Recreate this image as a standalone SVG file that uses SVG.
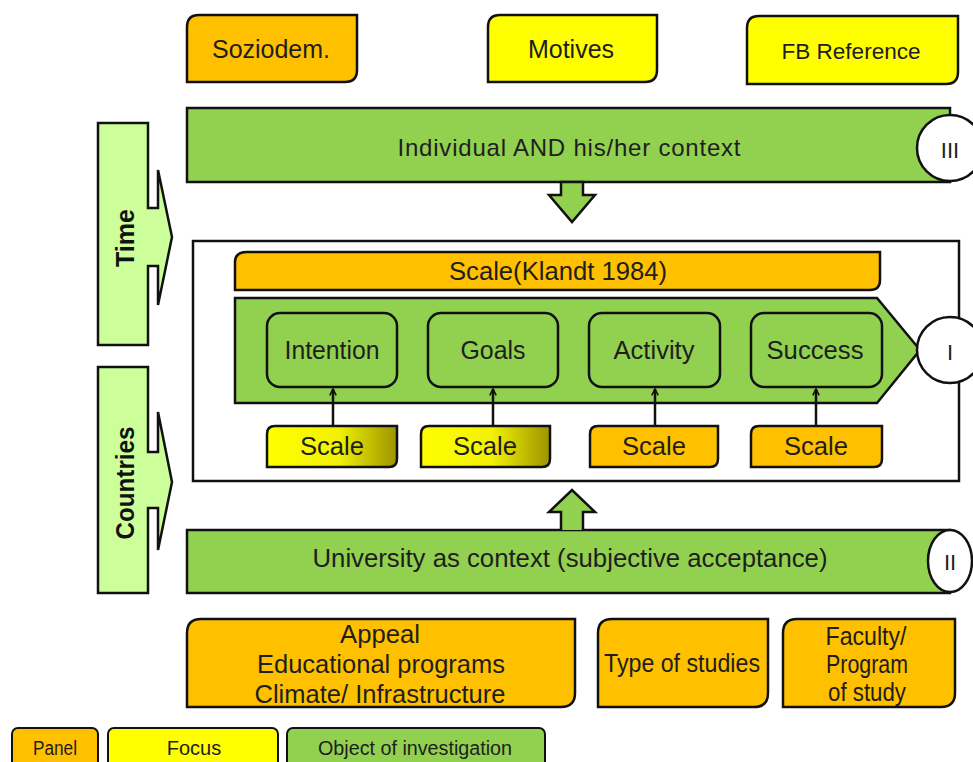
<svg xmlns="http://www.w3.org/2000/svg" width="973" height="762" viewBox="0 0 973 762">
<defs>
<linearGradient id="gy" x1="0" y1="0" x2="1" y2="0">
<stop offset="0" stop-color="#ffff00"/>
<stop offset="0.55" stop-color="#f2f200"/>
<stop offset="1" stop-color="#9c9400"/>
</linearGradient>
<marker id="ah" viewBox="0 0 10 10" refX="9" refY="5" markerWidth="8" markerHeight="8" orient="auto" markerUnits="userSpaceOnUse">
<path d="M1,1 L9,5 L1,9" fill="none" stroke="#111" stroke-width="2"/>
</marker>
<style>
.t{font-family:"Liberation Sans",Arial,sans-serif;fill:#1e1e1e;text-anchor:middle;dominant-baseline:central}
.f25{font-size:25px}
.f24{font-size:24px}
.f22{font-size:22px}
.f20{font-size:20px}
.b{font-weight:bold;font-size:25px;fill:#111}
.or{fill:#ffc000;stroke:#111;stroke-width:2.5}
.ye{fill:#ffff00;stroke:#111;stroke-width:2.5}
.gr{fill:#92d050;stroke:#111;stroke-width:2.5}
.lg{fill:#ccff99;stroke:#111;stroke-width:2.5}
.wh{fill:#fff;stroke:#111;stroke-width:2.5}
.ln{stroke:#111;stroke-width:2.5;fill:none}
</style>
</defs>
<rect width="973" height="762" fill="#fff"/>

<g id="soziodem">
<path class="or" d="M199,15 H357 V70 Q357,82 345,82 H187 V27 Q187,15 199,15 Z"/>
<text class="t f25" x="271" y="49" textLength="118" lengthAdjust="spacingAndGlyphs">Soziodem.</text>
</g>
<g id="motives">
<path class="ye" d="M500,15 H657 V70 Q657,82 645,82 H488 V27 Q488,15 500,15 Z"/>
<text class="t f25" x="571" y="49">Motives</text>
</g>
<g id="fbref">
<path class="ye" d="M759,16 H958 V72 Q958,84 946,84 H747 V28 Q747,16 759,16 Z"/>
<text class="t f22" x="851" y="51" textLength="139" lengthAdjust="spacingAndGlyphs">FB Reference</text>
</g>

<g id="band3">
<rect class="gr" x="187" y="108" width="763" height="74"/>
<circle class="wh" cx="950" cy="148" r="33"/>
<text class="t f24" x="569" y="147" textLength="343" lengthAdjust="spacing">Individual AND his/her context</text>
<text class="t f22" x="950" y="150">III</text>
</g>

<g id="time">
<path class="lg" d="M98,123 H148 V208 H158 V170 L172,237 L158,305 V266 H148 V345 H98 Z"/>
<text class="t b" transform="translate(125,238) rotate(-90)">Time</text>
</g>
<g id="countries">
<path class="lg" d="M98,367 H148 V452 H158 V412 L172,482 L158,550 V508 H148 V593 H98 Z"/>
<text class="t b" transform="translate(125,483) rotate(-90)" textLength="113" lengthAdjust="spacingAndGlyphs">Countries</text>
</g>

<g id="mainbox">
<rect class="wh" x="193" y="241" width="766" height="240" stroke-width="2"/>
</g>

<g id="klandt">
<path class="or" d="M247,252 H880 V280 Q880,290 870,290 H235 V262 Q235,252 247,252 Z"/>
<text class="t f25" x="558" y="271" textLength="218" lengthAdjust="spacingAndGlyphs">Scale(Klandt 1984)</text>
</g>

<g id="process">
<path class="gr" d="M235,298 H877 L920,350 L877,403 H235 Z"/>
<circle class="wh" cx="950" cy="350" r="33"/>
<text class="t f22" x="950" y="352">I</text>
</g>

<g id="intention">
<rect class="gr" x="267" y="313" width="130" height="74" rx="13"/>
<text class="t f25" x="332" y="350" textLength="95" lengthAdjust="spacingAndGlyphs">Intention</text>
</g>
<g id="goals">
<rect class="gr" x="428" y="313" width="130" height="74" rx="13"/>
<text class="t f25" x="493" y="350" textLength="65" lengthAdjust="spacingAndGlyphs">Goals</text>
</g>
<g id="activity">
<rect class="gr" x="589" y="313" width="131" height="74" rx="13"/>
<text class="t f25" x="654" y="350" textLength="81" lengthAdjust="spacingAndGlyphs">Activity</text>
</g>
<g id="success">
<rect class="gr" x="751" y="313" width="131" height="74" rx="13"/>
<text class="t f25" x="815" y="350" textLength="97" lengthAdjust="spacingAndGlyphs">Success</text>
</g>

<g id="scale1">
<path d="M275,426 H397 V459 Q397,467 389,467 H267 V434 Q267,426 275,426 Z" fill="url(#gy)" stroke="#111" stroke-width="2.5"/>
<text class="t f25" x="332" y="446" textLength="64" lengthAdjust="spacingAndGlyphs">Scale</text>
</g>
<g id="scale2">
<path d="M429,426 H550 V459 Q550,467 542,467 H421 V434 Q421,426 429,426 Z" fill="url(#gy)" stroke="#111" stroke-width="2.5"/>
<text class="t f25" x="485" y="446" textLength="64" lengthAdjust="spacingAndGlyphs">Scale</text>
</g>
<g id="scale3">
<path class="or" d="M598,426 H718 V459 Q718,467 710,467 H590 V434 Q590,426 598,426 Z"/>
<text class="t f25" x="654" y="446" textLength="64" lengthAdjust="spacingAndGlyphs">Scale</text>
</g>
<g id="scale4">
<path class="or" d="M759,426 H882 V459 Q882,467 874,467 H751 V434 Q751,426 759,426 Z"/>
<text class="t f25" x="816" y="446" textLength="64" lengthAdjust="spacingAndGlyphs">Scale</text>
</g>

<g id="band2">
<rect class="gr" x="187" y="530" width="763" height="63"/>
<ellipse class="wh" cx="950" cy="561" rx="22" ry="31"/>
<text class="t f25" x="570" y="558" textLength="515" lengthAdjust="spacingAndGlyphs">University as context (subjective acceptance)</text>
<text class="t f22" x="950" y="562">II</text>
</g>

<g id="connectors">
<path class="gr" d="M561,182 H583 V195 H595 L572,222 L549,195 H561 Z" stroke-linejoin="miter"/>
<path class="gr" d="M561,530 V512 H549 L572,490 L595,512 H583 V530" stroke-linejoin="miter"/>
<line class="ln" x1="333" y1="426" x2="333" y2="389" marker-end="url(#ah)"/>
<line class="ln" x1="493" y1="426" x2="493" y2="389" marker-end="url(#ah)"/>
<line class="ln" x1="655" y1="426" x2="655" y2="389" marker-end="url(#ah)"/>
<line class="ln" x1="816" y1="426" x2="816" y2="389" marker-end="url(#ah)"/>
</g>

<g id="appeal">
<path class="or" d="M201,619 H575 V693 Q575,707 561,707 H187 V633 Q187,619 201,619 Z"/>
<text class="t f25" x="380" y="634" textLength="80" lengthAdjust="spacingAndGlyphs">Appeal</text>
<text class="t f25" x="381" y="664" textLength="248" lengthAdjust="spacingAndGlyphs">Educational programs</text>
<text class="t f25" x="380" y="694" textLength="251" lengthAdjust="spacingAndGlyphs">Climate/ Infrastructure</text>
</g>
<g id="typeofstudies">
<path class="or" d="M612,619 H768 V693 Q768,707 754,707 H598 V633 Q598,619 612,619 Z"/>
<text class="t f25" x="682" y="663" textLength="156" lengthAdjust="spacingAndGlyphs">Type of studies</text>
</g>
<g id="faculty">
<path class="or" d="M797,619 H955 V693 Q955,707 941,707 H783 V633 Q783,619 797,619 Z"/>
<text class="t f25" x="866" y="636" textLength="81" lengthAdjust="spacingAndGlyphs">Faculty/</text>
<text class="t f25" x="867" y="664" textLength="82" lengthAdjust="spacingAndGlyphs">Program</text>
<text class="t f25" x="867" y="692" textLength="78" lengthAdjust="spacingAndGlyphs">of study</text>
</g>

<g id="legend">
<rect x="12" y="728" width="86" height="40" rx="6" fill="#ffc000" stroke="#111" stroke-width="2"/>
<text class="t f20" x="55" y="748" textLength="44" lengthAdjust="spacingAndGlyphs">Panel</text>
<rect x="108" y="728" width="170" height="40" rx="6" fill="#ffff00" stroke="#111" stroke-width="2"/>
<text class="t f20" x="194" y="748">Focus</text>
<rect x="287" y="728" width="258" height="40" rx="6" fill="#92d050" stroke="#111" stroke-width="2"/>
<text class="t f20" x="415" y="748" textLength="194" lengthAdjust="spacingAndGlyphs">Object of investigation</text>
</g>
</svg>
